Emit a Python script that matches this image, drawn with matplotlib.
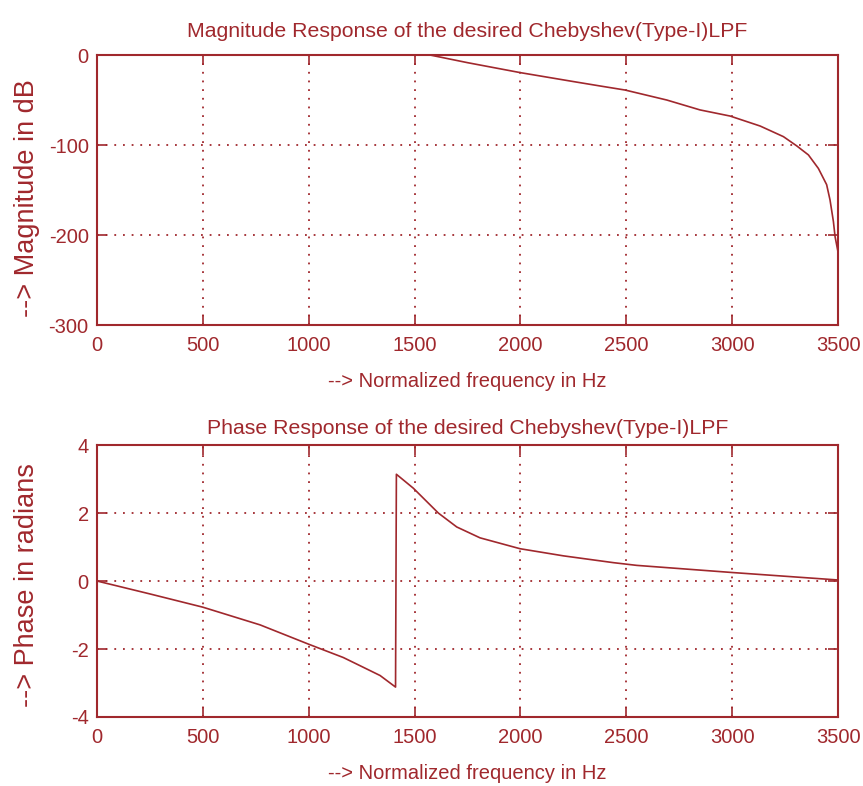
import matplotlib.pyplot as plt
import numpy as np

# values
mag_freq = [1573, 1750, 2000, 2250, 2376, 2494, 2691, 2848, 2990, 3132, 3242, 3305, 3360, 3407,
            3446, 3462, 3478, 3486, 3500]
mag_db = [0, -8.5, -19.6, -29.5, -34.4, -38.9, -50, -61, -67.8, -78.9, -90.7, -101, -111, -126,
          -144, -161, -185, -202, -219]

ph_freq = [0, 250, 500, 770, 1000, 1163, 1242, 1337, 1410, 1414, 1494, 1612, 1699, 1809, 1998,
           2203, 2439, 2549, 3000, 3500]
ph_rad = [0, -0.38, -0.77, -1.29, -1.86, -2.25, -2.49, -2.78, -3.12, 3.14, 2.73, 2.0, 1.59, 1.27, 0.95,
          0.74, 0.54, 0.46, 0.25, 0.03]

xticks = range(0, 3501, 500)
c = "#A0282D"

plt.rcParams["font.family"] = ["Liberation Sans", "DejaVu Sans"]
plt.rcParams["axes.unicode_minus"] = False

fig = plt.figure(figsize=(8.63, 7.86), dpi=100)

ax1 = fig.add_axes([0.1124, 0.5865, 0.8587, 0.3435])
ax1.plot(mag_freq, mag_db, color=c, lw=1.2)
ax1.set_xlim(0, 3500)
ax1.set_ylim(-300, 0)
ax1.set_xticks(xticks)
ax1.set_yticks(range(-300, 1, 100))
ax1.set_title("Magnitude Response of the desired Chebyshev(Type-I)LPF", color=c, fontsize=15.3, pad=13)
ax1.set_xlabel("--> Normalized frequency in Hz", color=c, fontsize=14.5, labelpad=12)
ax1.set_ylabel("--> Magnitude in dB", color=c, fontsize=19.5)
ax1.yaxis.set_label_coords(-0.077, 0.47)

ax2 = fig.add_axes([0.1124, 0.0878, 0.8587, 0.346])
ax2.plot(ph_freq, ph_rad, color=c, lw=1.2)
ax2.set_xlim(0, 3500)
ax2.set_ylim(-4, 4)
ax2.set_xticks(xticks)
ax2.set_yticks(range(-4, 5, 2))
ax2.set_title("Phase Response of the desired Chebyshev(Type-I)LPF", color=c, fontsize=15.3, pad=8)
ax2.set_xlabel("--> Normalized frequency in Hz", color=c, fontsize=14.5, labelpad=12)
ax2.set_ylabel("--> Phase in radians", color=c, fontsize=19.5)
ax2.yaxis.set_label_coords(-0.077, 0.485)

for ax in (ax1, ax2):
    ax.grid(True, color=c, linestyle=(0, (1, 3.8)), lw=1.3)
    ax.tick_params(direction="in", colors=c, top=True, right=True, length=7, width=1.2, labelsize=14.5)
    ax.tick_params(axis="x", pad=8)
    ax.tick_params(axis="y", pad=6)
    for s in ax.spines.values():
        s.set_color(c)
        s.set_linewidth(1.5)

plt.savefig("out.png", dpi=100)
